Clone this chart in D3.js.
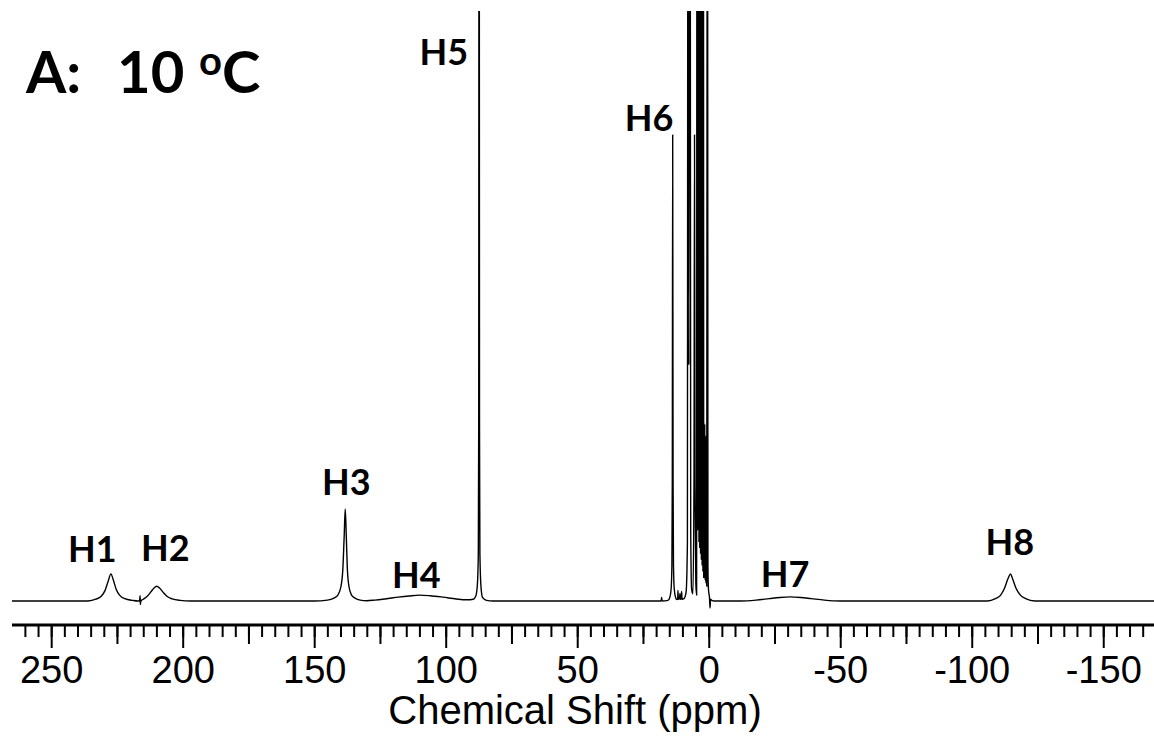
<!DOCTYPE html>
<html>
<head>
<meta charset="utf-8">
<script src="https://cdn.jsdelivr.net/npm/d3@7"></script>
<style>
  body { margin: 0; background: #fff; }
  svg { display: block; }
  .lbl { font-family: Lato, "Open Sans", sans-serif; font-weight: bold; fill: #000; }
  .tick text { font-family: "Liberation Sans", Arial, sans-serif; }
</style>
</head>
<body>
<svg width="1154" height="740"></svg>
<script>
// spectrum: chemical shift (ppm) and intensity (arbitrary, baseline = 0)
const shift = [
  264.9, 236, 233, 231, 229.5, 228.3, 227.3, 226.4, 225.3, 224, 222, 219, 217,
  216.4, 216.2, 216.1, 215.9,
  215, 213.5, 212, 210.9, 209.9, 208.8, 207.5, 206, 204, 201, 197,
  150, 145, 142.5, 141, 139.8, 139.1, 138.6, 138.2, 137.8, 137.4, 136.8, 135.8, 134.5, 132.5, 130,
  127, 123, 118, 114, 110, 106, 101, 96, 92, 89.5,
  88.6, 88.0, 87.6, 87.45, 87.3, 87.15, 87.0, 86.6, 86.0, 84.5, 82,
  19, 18.1, 17.9, 17.7,
  15.5, 14.8, 14.3, 14.0, 13.85, 13.7, 13.55, 13.4, 13.1, 12.6, 12.1,
  11.8, 11.7, 11.55, 11.1, 10.95, 10.8, 10.45, 10.3, 10.15, 9.4,
  8.6, 8.1, 7.85, 7.55, 7.15, 6.85, 6.5, 6.0, 5.6, 5.4, 5.2, 4.9, 4.6,
  4.45, 4.3, 4.15, 4.0, 3.85, 3.7, 3.55, 3.4, 3.25, 3.1, 2.95, 2.8, 2.65, 2.5, 2.35, 2.2, 2.05, 1.9,
  1.65, 1.5, 1.35, 1.2, 1.05, 0.9, 0.75, 0.5, 0.3, 0.1, -0.3, -0.5, -0.7, -1.2, -2,
  -12, -18, -23, -27, -31, -35, -39, -44, -50,
  -106, -109, -111, -112.5, -113.8, -114.7, -115.5, -116.8, -118.5, -120.5, -124,
  -169.3
];
const intensity = [
  0, 0, 0.3, 0.8, 1.8, 3.4, 4.6, 3.6, 2.0, 1.0, 0.4, 0.1, 0,
  0, 0.9, -0.6, 0,
  0.3, 0.8, 1.6, 2.2, 2.5, 2.2, 1.5, 0.8, 0.35, 0.1, 0,
  0, 0.15, 0.5, 1.0, 2.5, 5.5, 11, 15.6, 11, 5.5, 2.5, 1.0, 0.5, 0.15, 0.05,
  0.15, 0.35, 0.65, 0.85, 1.0, 0.9, 0.65, 0.35, 0.2, 0.3,
  0.8, 2.5, 8, 30, 200, 30, 8, 2.5, 0.6, 0.1, 0,
  0, 0, 0.6, 0,
  0.1, 0.6, 2, 6, 20, 79, 20, 6, 2, 0.6, 0.25,
  0.3, 1.8, 0.3, 0.4, 1.3, 0.3, 0.4, 1.6, 0.3, 0.4,
  1.5, 10, 200, 40, 200, 12, 2, 1.2, 20, 79, 20, 3, 1,
  200, 12, 200, 12, 200, 10, 200, 9, 200, 8, 200, 7, 200, 6, 200, 5, 200, 4,
  4, 30, 3.5, 28, 3, 25, 2.5, 200, 6, 2, 0.5, -1.2, 0.3, 0.1, 0,
  0, 0.15, 0.4, 0.6, 0.7, 0.6, 0.4, 0.15, 0,
  0, 0.4, 1.0, 2.2, 3.8, 4.6, 3.8, 2.2, 1.0, 0.4, 0,
  0
];

// peak labels: text, shift (ppm) of label centre, intensity level of text baseline
const peakNames = ["H1", "H2", "H3", "H4", "H5", "H6", "H7", "H8"];
const peakLabelShift = [234.4, 206.6, 137.8, 111.2, 100.7, 22.7, -29.0, -114.5];
const peakLabelLevel = [6.66, 6.8, 18.0, 2.25, 90.8, 79.7, 2.3, 7.8];

const majorTicks = [250, 200, 150, 100, 50, 0, -50, -100, -150];
const mediumTicks = [225, 175, 125, 75, 25, -25, -75, -125];

const svg = d3.select("svg"),
      width = +svg.attr("width"),
      height = +svg.attr("height");

const x = d3.scaleLinear().domain([264.9, -169.3]).range([12, width]);
const y = d3.scaleLinear().domain([0, 100]).range([601, 11]);

svg.append("clipPath").attr("id", "plotclip")
  .append("rect").attr("x", 0).attr("y", 11).attr("width", width).attr("height", 610);

const data = shift.map((s, i) => ({ s, v: intensity[i] }));

const line = d3.line()
  .x(d => x(d.s))
  .y(d => y(d.v))
  .curve(d3.curveMonotoneX);

svg.append("path")
  .datum(data)
  .attr("clip-path", "url(#plotclip)")
  .attr("fill", "none")
  .attr("stroke", "#000")
  .attr("stroke-width", 1.4)
  .attr("d", line);

// axis: minor every 5, medium every 25, major every 50
const axisY = 625;
const minorTicks = d3.range(260, -170, -5);

svg.append("g")
  .attr("transform", `translate(0,${axisY})`)
  .call(d3.axisBottom(x).tickValues(minorTicks).tickSize(12).tickSizeOuter(0).tickFormat(""))
  .call(g => g.select(".domain").remove());

svg.append("g")
  .attr("transform", `translate(0,${axisY})`)
  .call(d3.axisBottom(x).tickValues(mediumTicks).tickSize(19).tickSizeOuter(0).tickFormat(""))
  .call(g => g.select(".domain").remove());

const major = svg.append("g")
  .attr("transform", `translate(0,${axisY})`)
  .call(d3.axisBottom(x).tickValues(majorTicks).tickSize(23).tickSizeOuter(0)
    .tickFormat(d => String(d)));

major.selectAll(".tick text")
  .attr("y", 58)
  .attr("dy", 0)
  .attr("font-size", 38)
  .attr("fill", "#000");

major.select(".domain").remove();

svg.selectAll(".tick line").attr("stroke", "#000").attr("stroke-width", 2);

svg.append("line")
  .attr("x1", 12).attr("x2", width)
  .attr("y1", axisY).attr("y2", axisY)
  .attr("stroke", "#000")
  .attr("stroke-width", 3);

svg.append("text")
  .attr("x", 575)
  .attr("y", 724)
  .attr("text-anchor", "middle")
  .attr("font-family", "'Liberation Sans', Arial, sans-serif")
  .attr("font-size", 40)
  .text("Chemical Shift (ppm)");

// peak labels
svg.selectAll("text.peak")
  .data(peakNames)
  .join("text")
  .attr("class", "peak lbl")
  .attr("x", (d, i) => x(peakLabelShift[i]))
  .attr("y", (d, i) => y(peakLabelLevel[i]))
  .attr("text-anchor", "middle")
  .attr("font-size", 36)
  .text(d => d);

// panel title
const title = svg.append("text")
  .attr("class", "lbl")
  .attr("y", 93)
  .attr("font-size", 58);
title.append("tspan").attr("x", 26).text("A:");
title.append("tspan").attr("x", 117).text("10");
title.append("tspan").attr("x", 199).attr("font-size", 40).attr("dy", -18).text("o");
title.append("tspan").attr("x", 222).attr("dy", 18).text("C");
</script>
</body>
</html>
